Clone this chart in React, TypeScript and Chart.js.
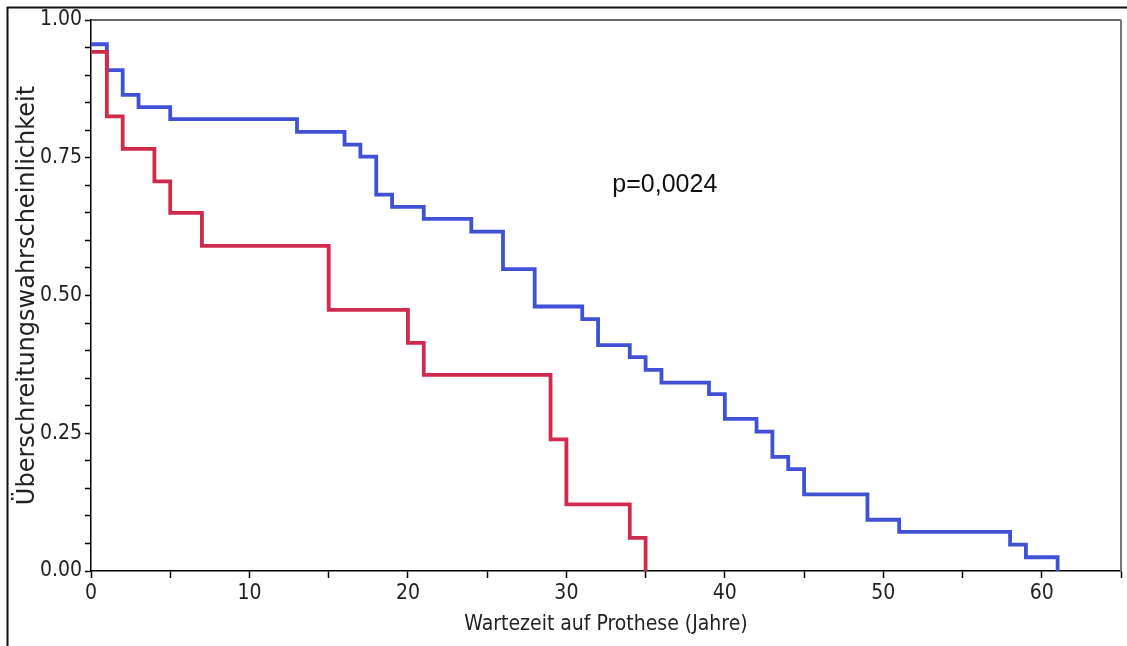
import React, { useEffect, useRef } from "react";
import { Chart, registerables } from "chart.js";

Chart.register(...registerables);

// Kaplan-Meier step data (time in years, exceedance probability)
const blueTimes = [0, 1, 2, 3, 5, 13, 16, 17, 18, 19, 21, 24, 26, 28, 31, 32, 34, 35, 36, 39, 40, 42, 43, 44, 45, 49, 51, 58, 59, 61];
const blueSurv = [0.956, 0.909, 0.864, 0.842, 0.82, 0.797, 0.774, 0.752, 0.683, 0.661, 0.639, 0.616, 0.548, 0.48, 0.457, 0.41, 0.388, 0.365, 0.342, 0.321, 0.276, 0.253, 0.207, 0.185, 0.139, 0.093, 0.071, 0.048, 0.025, 0];

const redTimes = [0, 1, 2, 4, 5, 7, 15, 20, 21, 29, 30, 34, 35];
const redSurv = [0.942, 0.825, 0.766, 0.707, 0.65, 0.59, 0.474, 0.414, 0.356, 0.239, 0.121, 0.06, 0];

const xTitle = "Wartezeit auf Prothese (Jahre)";
const yTitle = "Überschreitungswahrscheinlichkeit";
const pText = "p=0,0024";
const pTextX = 32.9;
const pTextY = 0.70;

const BLUE = "#4051d6";
const RED = "#d02a4c";
const TICK_FONT = "'DejaVu Sans Condensed', 'Liberation Sans Narrow', 'DejaVu Sans', sans-serif";

const framePlugin = {
  id: "framePlugin",
  afterDraw(chart: any) {
    const { ctx, chartArea } = chart;
    ctx.save();
    // outer frame lines (top and left)
    ctx.strokeStyle = "#111";
    ctx.lineWidth = 2;
    ctx.beginPath();
    ctx.moveTo(7, 7.5);
    ctx.lineTo(chart.width, 7.5);
    ctx.moveTo(7.5, 7);
    ctx.lineTo(7.5, chart.height);
    ctx.stroke();
    // plot frame top and right
    ctx.strokeStyle = "#333";
    ctx.lineWidth = 1.5;
    ctx.beginPath();
    ctx.moveTo(chartArea.left, chartArea.top);
    ctx.lineTo(chartArea.right, chartArea.top);
    ctx.stroke();
    ctx.strokeStyle = "#777";
    ctx.lineWidth = 2;
    ctx.beginPath();
    ctx.moveTo(chartArea.right, chartArea.top);
    ctx.lineTo(chartArea.right, chartArea.bottom);
    ctx.stroke();
    // p-value annotation
    const px = chart.scales.x.getPixelForValue(pTextX);
    const py = chart.scales.y.getPixelForValue(pTextY);
    ctx.fillStyle = "#111";
    ctx.font = "25px 'Liberation Sans', Arial, sans-serif";
    ctx.textAlign = "left";
    ctx.textBaseline = "middle";
    ctx.fillText(pText, px, py);
    ctx.restore();
  },
};

export default function App() {
  const ref = useRef<HTMLCanvasElement>(null);

  useEffect(() => {
    if (!ref.current) return;
    const chart = new Chart(ref.current, {
      type: "line",
      data: {
        datasets: [
          {
            label: "Gruppe 2",
            data: redTimes.map((t, i) => ({ x: t, y: redSurv[i] })),
            borderColor: RED,
            borderWidth: 3.8,
            stepped: "before",
            pointRadius: 0,
            fill: false,
            clip: 6,
          },
          {
            label: "Gruppe 1",
            data: blueTimes.map((t, i) => ({ x: t, y: blueSurv[i] })),
            borderColor: BLUE,
            borderWidth: 3.8,
            stepped: "before",
            pointRadius: 0,
            fill: false,
            clip: 6,
          },
        ],
      },
      options: {
        responsive: false,
        animation: false,
        devicePixelRatio: 1,
        layout: { padding: { top: 20, right: 6, left: 0, bottom: 0 } },
        plugins: { legend: { display: false }, tooltip: { enabled: false } },
        scales: {
          x: {
            type: "linear",
            min: 0,
            max: 65,
            ticks: {
              stepSize: 5,
              autoSkip: false,
              maxRotation: 0,
              padding: 3,
              color: "#222",
              font: { family: TICK_FONT, size: 21 },
              callback: (v: any) => (Math.round(Number(v)) % 10 === 0 ? String(v) : ""),
            },
            grid: { display: true, drawOnChartArea: false, drawTicks: true, tickLength: 7, tickColor: "#000", tickWidth: 1.5 },
            border: { display: true, color: "#000", width: 1.5 },
            title: {
              display: true,
              text: xTitle,
              color: "#222",
              font: { family: TICK_FONT, size: 21 },
              padding: { top: 0, bottom: 9 },
            },
            afterFit: (s: any) => {
              s.height = 75;
            },
          },
          y: {
            type: "linear",
            min: 0,
            max: 1,
            ticks: {
              stepSize: 0.05,
              autoSkip: false,
              padding: 3,
              color: "#222",
              font: { family: TICK_FONT, size: 21 },
              callback: (v: any) => (Math.round(Number(v) * 100) % 25 === 0 ? Number(v).toFixed(2) : ""),
            },
            grid: { display: true, drawOnChartArea: false, drawTicks: true, tickLength: 6, tickColor: "#000", tickWidth: 1.5 },
            border: { display: true, color: "#000", width: 1.5 },
            title: {
              display: true,
              text: yTitle,
              color: "#222",
              font: { family: "'DejaVu Sans', sans-serif", size: 24 },
              padding: { top: 13, bottom: 0 },
            },
            afterFit: (s: any) => {
              s.width = 91;
            },
          },
        },
      },
      plugins: [framePlugin],
    });
    return () => chart.destroy();
  }, []);

  return (
    <div style={{ position: "absolute", left: 0, top: 0, width: 1127, height: 646, background: "#fff" }}>
      <canvas ref={ref} width={1127} height={646} style={{ display: "block" }} />
    </div>
  );
}
